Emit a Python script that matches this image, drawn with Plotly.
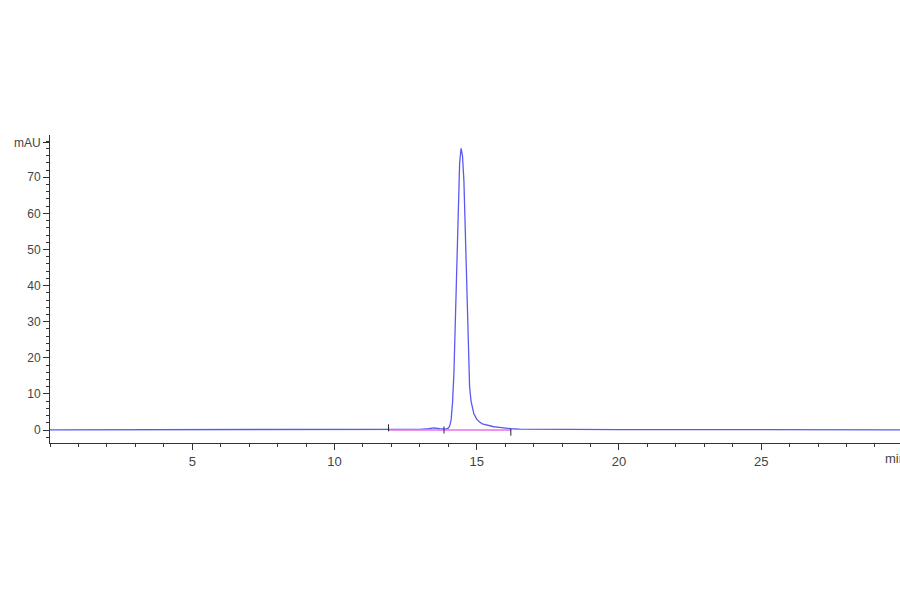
import plotly.graph_objects as go

# Chromatogram signal (time in min, absorbance in mAU)
time_min = [0.0, 1.0, 2.0, 3.0, 4.0, 5.0, 6.0, 7.0, 8.0, 9.0, 10.0, 11.0, 11.9,
            12.5, 13.0, 13.3, 13.5, 13.7, 13.9, 14.0, 14.05, 14.1, 14.15, 14.2,
            14.25, 14.3, 14.35, 14.4, 14.45, 14.5, 14.55, 14.6, 14.65, 14.7,
            14.75, 14.8, 14.85, 14.9, 15.0, 15.1, 15.2, 15.4, 15.6, 15.8, 16.0,
            16.2, 16.5, 17.0, 18.0, 20.0, 22.0, 24.0, 26.0, 28.0, 30.0]
signal_mau = [0.05, 0.05, 0.0, 0.05, 0.05, 0.0, 0.05, 0.05, 0.0, 0.05, 0.05, 0.05, 0.1,
              0.15, 0.2, 0.35, 0.6, 0.35, 0.25, 0.5, 1.1, 2.8, 7.5, 16.0,
              30.0, 47.0, 63.0, 74.0, 78.0, 76.0, 69.0, 55.0, 35.0, 20.0,
              12.0, 8.0, 6.0, 4.5, 3.0, 2.2, 1.7, 1.2, 0.9, 0.7, 0.5,
              0.35, 0.25, 0.2, 0.15, 0.1, 0.1, 0.05, 0.05, 0.05, 0.05]

# Integration baseline and event marks
baseline_t = [11.9, 13.85, 16.2]
baseline_y = [0.0, 0.0, 0.0]
mark_t = [11.9, 13.85, 16.2]
mark_y = [0.6, 0.0, -0.6]

# Axis ticks
y_tickvals = [0, 10, 20, 30, 40, 50, 60, 70, 79.6]
y_ticktext = ["0", "10", "20", "30", "40", "50", "60", "70", "mAU"]
x_tickvals = [5, 10, 15, 20, 25]
x_ticktext = ["5", "10", "15", "20", "25"]

fig = go.Figure()
fig.add_trace(go.Scatter(x=time_min, y=signal_mau, mode="lines",
                         line=dict(color="#5a5af2", width=1.3)))
fig.add_trace(go.Scatter(x=baseline_t, y=baseline_y, mode="lines",
                         line=dict(color="rgba(235,120,235,0.8)", width=2),
                         hoverinfo="skip"))
fig.add_trace(go.Scatter(x=mark_t, y=mark_y, mode="markers",
                         marker=dict(symbol="line-ns", size=5,
                                     line=dict(color="#222222", width=1))))

fig.update_layout(
    width=900, height=594,
    margin=dict(l=50, r=0, t=135, b=151),
    paper_bgcolor="white", plot_bgcolor="white",
    showlegend=False,
    font=dict(family="Liberation Sans, Arial, sans-serif", color="#444444"),
    xaxis=dict(range=[0, 29.88], showgrid=False, zeroline=False,
               showline=True, linecolor="#333333", linewidth=1,
               ticks="outside", ticklen=6, tickcolor="#333333",
               tickvals=x_tickvals, ticktext=x_ticktext,
               tickfont=dict(size=13, color="#444444"),
               minor=dict(dtick=1, tick0=0, ticks="outside", ticklen=3,
                          tickcolor="#333333")),
    yaxis=dict(range=[-3.6, 81.7], showgrid=False, zeroline=False,
               showline=True, linecolor="#333333", linewidth=1,
               ticks="outside", ticklen=6, tickcolor="#333333",
               tickvals=y_tickvals, ticktext=y_ticktext,
               tickfont=dict(size=12, color="#444444"),
               minor=dict(dtick=2, tick0=0, ticks="outside", ticklen=3,
                          tickcolor="#333333")),
)

fig.add_annotation(x=29.27, y=-3.6, xref="x", yref="y", text="min",
                   showarrow=False, xanchor="left", yanchor="top", yshift=-6,
                   font=dict(size=13, color="#444444"))

fig.write_html("out.html",
               config={"displayModeBar": False},
               post_script="document.body.style.margin='0';"
                           "document.body.style.overflow='hidden';")
